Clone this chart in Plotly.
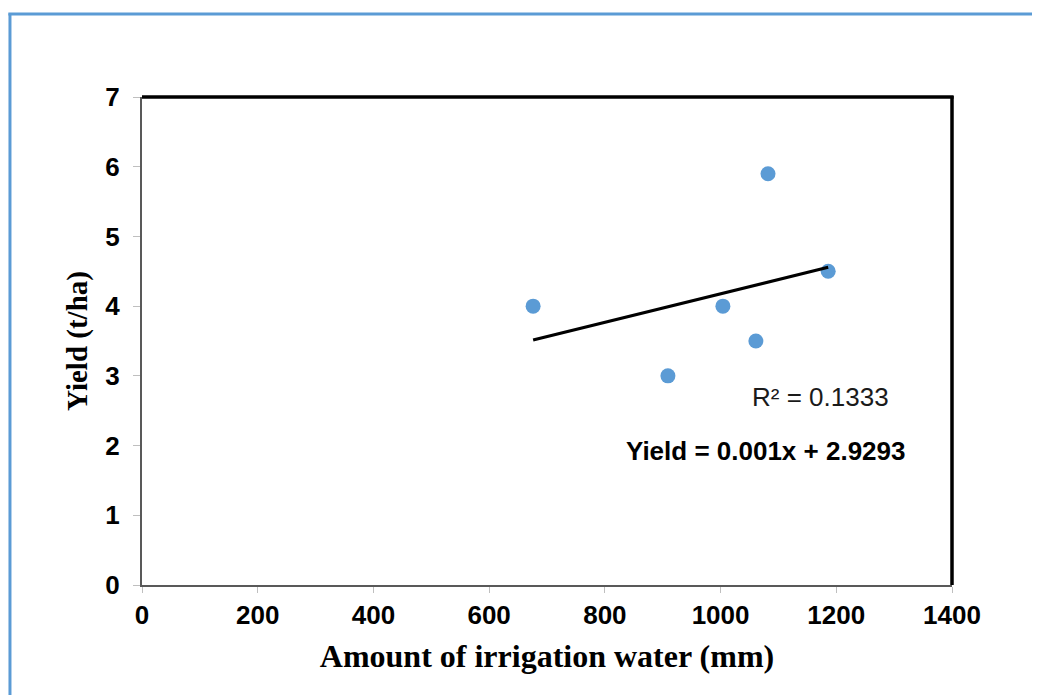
import numpy as np
import plotly.graph_objects as go

# Data
irrigation_mm = [676, 909, 1004, 1061, 1082, 1186]
yield_tha = [4.0, 3.0, 4.0, 3.5, 5.9, 4.5]

x_ticks = [0, 200, 400, 600, 800, 1000, 1200, 1400]
y_ticks = [0, 1, 2, 3, 4, 5, 6, 7]

r2_text = "R² = 0.1333"
eq_text = "<b>Yield = 0.001x + 2.9293</b>"

# Linear trend line fitted to the data
slope, intercept = np.polyfit(irrigation_mm, yield_tha, 1)
trend_x = [min(irrigation_mm), max(irrigation_mm)]
trend_y = [slope * v + intercept for v in trend_x]

fig = go.Figure()
fig.add_trace(go.Scatter(
    x=irrigation_mm, y=yield_tha, mode="markers",
    marker=dict(color="#5B9BD5", size=15),
    showlegend=False,
))
fig.add_trace(go.Scatter(
    x=trend_x, y=trend_y, mode="lines",
    line=dict(color="black", width=3.2),
    showlegend=False,
))

tick_font = dict(family="Arial, Liberation Sans, sans-serif", size=26, color="black")
xtitle_font = dict(family="Liberation Serif, Times New Roman, serif", size=32, color="black")
ytitle_font = dict(family="Liberation Serif, Times New Roman, serif", size=29, color="black")

fig.update_xaxes(
    range=[0, 1400], tickvals=x_ticks, ticktext=[f"<b>{v}</b>" for v in x_ticks],
    showgrid=False, zeroline=False,
    showline=True, linecolor="#595959", linewidth=2,
    ticks="outside", ticklen=6, tickcolor="#BFBFBF", tickwidth=1,
    tickfont=tick_font,
    title=dict(text="<b>Amount of irrigation water (mm)</b>", font=xtitle_font, standoff=15),
)
fig.update_yaxes(
    range=[0, 7], tickvals=y_ticks, ticktext=[f"<b>{v}</b>" for v in y_ticks],
    showgrid=False, zeroline=False,
    showline=True, linecolor="#595959", linewidth=2,
    ticks="outside", ticklen=7, tickcolor="#BFBFBF", tickwidth=1,
    tickfont=tick_font, ticklabelstandoff=8,
    title=dict(text="<b>Yield (t/ha)</b>", font=ytitle_font, standoff=9),
)

# Plot area frame: black on top and right
fig.add_shape(type="line", xref="paper", yref="paper", x0=0, x1=1.002, y0=1, y1=1,
              line=dict(color="black", width=3.5))
fig.add_shape(type="line", xref="paper", yref="paper", x0=1, x1=1, y0=0, y1=1.002,
              line=dict(color="black", width=3.5))

# Outer blue frame (left and top)
fig.add_shape(type="line", xref="paper", yref="paper", x0=-0.163, x1=-0.163, y0=-0.3, y1=1.171,
              line=dict(color="#5B9BD5", width=3))
fig.add_shape(type="line", xref="paper", yref="paper", x0=-0.165, x1=1.3, y0=1.170, y1=1.170,
              line=dict(color="#5B9BD5", width=3))

fig.add_annotation(x=1172, y=2.70, xref="x", yref="y", text=r2_text, showarrow=False,
                   font=dict(family="Arial, Liberation Sans, sans-serif", size=26, color="#1a1a1a"))
fig.add_annotation(x=1078, y=1.92, xref="x", yref="y", text=eq_text, showarrow=False,
                   font=dict(family="Arial, Liberation Sans, sans-serif", size=26, color="black"))

# The page body adds an 8px offset, so the figure is sized/margined to compensate
fig.update_layout(
    width=1032, height=687,
    margin=dict(l=134, r=88, t=89, b=110),
    paper_bgcolor="white", plot_bgcolor="white",
)

fig.write_html("out.html")
